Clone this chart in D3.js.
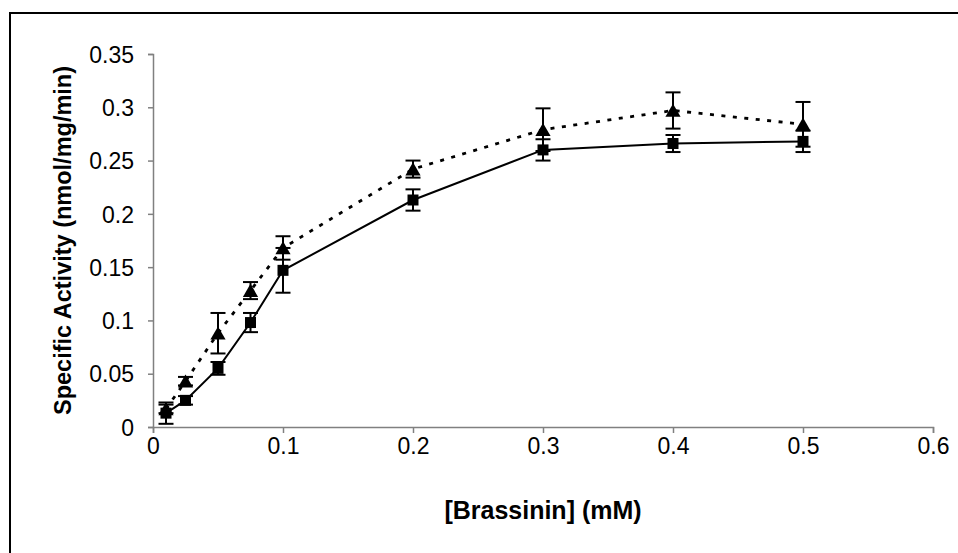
<!DOCTYPE html>
<html>
<head>
<meta charset="utf-8">
<script src="https://cdn.jsdelivr.net/npm/d3@7/dist/d3.min.js"></script>
<style>
  html, body { margin: 0; padding: 0; background: #fff; }
  svg { display: block; font-family: Arial, "Liberation Sans", sans-serif; }
</style>
</head>
<body>
<svg id="chart" width="958" height="553"></svg>
<script>
// Brassinin concentrations (mM)
const concentrations = [0.01, 0.025, 0.05, 0.075, 0.1, 0.2, 0.3, 0.4, 0.5];

// Series 1 (squares, solid line): specific activity and error
const squareValues = [0.013, 0.025, 0.055, 0.098, 0.147, 0.213, 0.260, 0.266, 0.268];
const squareErrors = [0.010, 0.004, 0.006, 0.009, 0.021, 0.010, 0.010, 0.008, 0.010];

// Series 2 (triangles, dotted line): specific activity and error
const triangleValues = [0.017, 0.043, 0.088, 0.128, 0.168, 0.242, 0.279, 0.297, 0.284];
const triangleErrors = [0.004, 0.004, 0.019, 0.008, 0.011, 0.008, 0.020, 0.017, 0.021];

const xTicks = [0, 0.1, 0.2, 0.3, 0.4, 0.5, 0.6];
const yTicks = [0, 0.05, 0.1, 0.15, 0.2, 0.25, 0.3, 0.35];

const xTitle = "[Brassinin] (mM)";
const yTitle = "Specific Activity (nmol/mg/min)";

const svg = d3.select("#chart");

// outer frame
svg.append("rect")
  .attr("x", 10).attr("y", 13)
  .attr("width", 980).attr("height", 580)
  .attr("fill", "none").attr("stroke", "#000").attr("stroke-width", 2);

const plot = { left: 153, right: 933, top: 54, bottom: 427 };

const x = d3.scaleLinear().domain([0, 0.6]).range([plot.left, plot.right]);
const y = d3.scaleLinear().domain([0, 0.35]).range([plot.bottom, plot.top]);

const fmt = d => String(+d.toFixed(2));

// axes
const xAxis = svg.append("g")
  .attr("transform", `translate(0,${plot.bottom})`)
  .call(d3.axisBottom(x).tickValues(xTicks).tickSize(6).tickPadding(5).tickFormat(fmt));
const yAxis = svg.append("g")
  .attr("transform", `translate(${plot.left},0)`)
  .call(d3.axisLeft(y).tickValues(yTicks).tickSize(5).tickPadding(14).tickFormat(fmt));

[xAxis, yAxis].forEach(g => {
  g.select(".domain").attr("stroke", "#808080").attr("stroke-width", 1.5);
  g.selectAll(".tick line").attr("stroke", "#808080").attr("stroke-width", 1.5);
  g.selectAll(".tick text").attr("fill", "#000")
    .style("font-size", "23px").style("font-family", "Arial, 'Liberation Sans', sans-serif");
});
yAxis.selectAll(".tick text").attr("dy", "0.36em");

// axis titles
svg.append("text")
  .attr("x", x(0.3)).attr("y", 519)
  .attr("text-anchor", "middle")
  .style("font-size", "25px").style("font-weight", "bold")
  .text(xTitle);

svg.append("text")
  .attr("transform", `translate(71,${(plot.top + plot.bottom) / 2}) rotate(-90)`)
  .attr("text-anchor", "middle")
  .style("font-size", "23.5px").style("font-weight", "bold")
  .text(yTitle);

function drawSeries(values, errors, dash, marker) {
  const pts = concentrations.map((c, i) => ({ c, v: values[i], e: errors[i] }));
  const line = d3.line().x(d => x(d.c)).y(d => y(d.v));
  svg.append("path")
    .datum(pts)
    .attr("d", line)
    .attr("fill", "none")
    .attr("stroke", "#000")
    .attr("stroke-width", dash ? 2.8 : 2)
    .attr("stroke-dasharray", dash || null);

  const eb = svg.append("g").attr("stroke", "#000").attr("stroke-width", 2);
  pts.forEach(d => {
    const cx = x(d.c);
    eb.append("line").attr("x1", cx).attr("x2", cx)
      .attr("y1", y(d.v - d.e)).attr("y2", y(d.v + d.e));
    [d.v - d.e, d.v + d.e].forEach(v => {
      eb.append("line").attr("x1", cx - 7.5).attr("x2", cx + 7.5)
        .attr("y1", y(v)).attr("y2", y(v));
    });
  });

  // d3's triangle sits on its centroid; shift it so its box is centred on the point
  const sym = marker === "square"
    ? d3.symbol().type(d3.symbolSquare).size(121)
    : d3.symbol().type(d3.symbolTriangle).size(100);
  const dy = marker === "square" ? 0 : 2;
  svg.append("g").selectAll("path")
    .data(pts)
    .join("path")
    .attr("d", sym)
    .attr("transform", d => `translate(${x(d.c)},${y(d.v) + dy})`)
    .attr("fill", "#000");
}

drawSeries(squareValues, squareErrors, null, "square");
drawSeries(triangleValues, triangleErrors, "4 7.5", "triangle");
</script>
</body>
</html>
